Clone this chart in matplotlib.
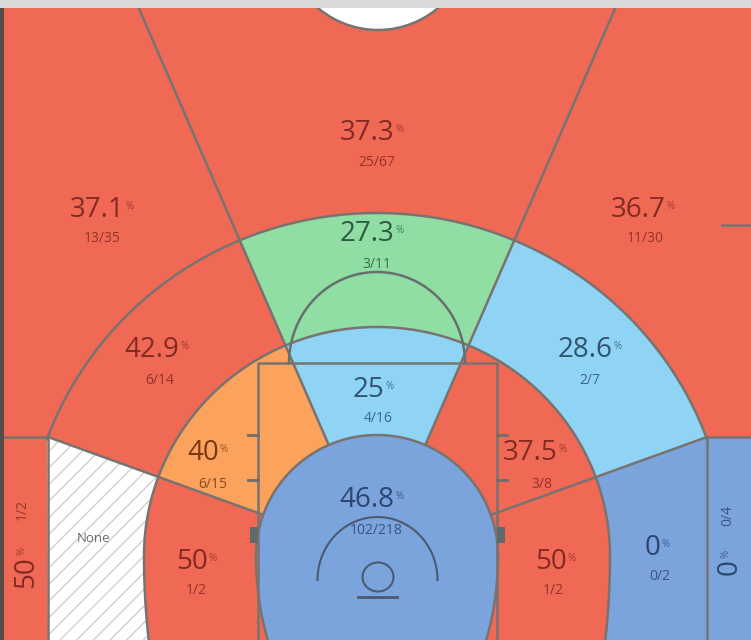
import numpy as np
import matplotlib
matplotlib.use("Agg")
import matplotlib.pyplot as plt
from matplotlib.patches import Polygon, Rectangle, Ellipse

plt.rcParams['font.family'] = ['Open Sans', 'DejaVu Sans']

# shot zones, made / attempted
zone_names = ["3L", "3C", "3R", "C3L", "C3R",
              "MidL", "MidLC", "MidC", "MidRC", "MidR",
              "ShortL", "ShortLC", "ShortC", "ShortRC", "ShortR", "Paint"]
made      = [13, 25, 11, 1, 0, 0, 6, 3, 2, 0, 1, 6, 4, 3, 1, 102]
attempted = [35, 67, 30, 2, 4, 0, 14, 11, 7, 2, 2, 15, 16, 8, 2, 218]
zone_fill = ["red", "red", "red", "red", "blue",
             "none", "red", "green", "lblue", "blue",
             "red", "orange", "lblue", "red", "red", "blue"]

FILL = {"red": "#f06955", "green": "#90dea4", "lblue": "#8fd4f4",
        "blue": "#7ba4dc", "orange": "#fba25c", "none": "white"}
INK = {"red": "#842a23", "green": "#2c5a43", "lblue": "#2f5470",
       "blue": "#2c4670", "orange": "#7a3815", "none": "#6b6b6b"}
LINE = "#787370"
LW = 1.8

# label anchors: number x, y, fraction x, y (pixels)
LABELS = {
    "3L": (97, 210, 102, 238), "3C": (367, 133, 377, 162),
    "3R": (638, 210, 645, 238), "C3L": (26, 572, 22, 509),
    "C3R": (730, 567, 728, 516), "MidL": (94, 538, None, None),
    "MidLC": (152, 350, 160, 380), "MidC": (367, 234, 377, 264),
    "MidRC": (585, 350, 590, 380), "MidR": (653, 548, 660, 577),
    "ShortL": (192, 562, 196, 590), "ShortLC": (203, 453, 213, 484),
    "ShortC": (369, 390, 378, 418), "ShortRC": (530, 453, 542, 484),
    "ShortR": (551, 562, 553, 590), "Paint": (367, 500, 376, 530),
}

W, H = 751, 640
PX, PY = 377, 556          # centre of the zone rings
SIDE_A, CENTER_A = 19.9, 66.5

# angular sectors (degrees, counter-clockwise from +x)
SECTORS = {"L": (180 - SIDE_A, 270), "LC": (180 - CENTER_A, 180 - SIDE_A),
           "C": (CENTER_A, 180 - CENTER_A), "RC": (SIDE_A, CENTER_A),
           "R": (-90, SIDE_A)}


def egg(cx, cy, rx, ry_top, ry_bot, n=360):
    t = np.linspace(0, 2 * np.pi, n, endpoint=False)
    ry = np.where(np.sin(t) >= 0, ry_top, ry_bot)
    return np.column_stack([cx + rx * np.cos(t), cy - ry * np.sin(t)])


def arc_pts(cx, cy, rx, ry, t0, t1, n=200):
    t = np.radians(np.linspace(t0, t1, n))
    return cx + rx * np.cos(t), cy - ry * np.sin(t)


def wedge(a0, a1):
    a = np.radians(np.linspace(a0, a1, 80))
    pts = np.column_stack([PX + 3000 * np.cos(a), PY - 3000 * np.sin(a)])
    return np.vstack([[PX, PY], pts])


# three point line: arc down to the corner lines, then straight
x3, y3 = arc_pts(PX, PY, 351, 343, SIDE_A, 180 - SIDE_A)
three_shape = np.vstack([np.column_stack([x3, y3]), [[48, 700], [707, 700]]])
ring2_shape = egg(PX, PY, 233, 229, 420)
paint_shape = egg(PX, PY, 121, 121, 195)

fig = plt.figure(figsize=(7.51, 6.40), dpi=100)
ax = fig.add_axes([0, 0, 1, 1])
ax.set_xlim(0, W)
ax.set_ylim(H, 0)
ax.axis('off')


def clipped(shape, sector, color, z, **kw):
    p = Polygon(shape, closed=True, facecolor=FILL[color], lw=0, zorder=z, **kw)
    ax.add_patch(p)
    if sector is not None:
        clip = Polygon(wedge(*SECTORS[sector]), closed=True, transform=ax.transData)
        p.set_clip_path(clip)


fills = dict(zip(zone_names, zone_fill))
court = np.array([[3, 8], [W, 8], [W, H], [3, H]])
for key, sec in [("3L", "L"), ("3C", "C"), ("3R", "R")]:
    wide = {"L": (180 - CENTER_A, 270), "C": (CENTER_A, 180 - CENTER_A),
            "R": (-90, CENTER_A)}[sec]
    p = Polygon(court, facecolor=FILL[fills[key]], lw=0, zorder=1)
    ax.add_patch(p)
    p.set_clip_path(Polygon(wedge(*wide), transform=ax.transData))

ax.add_patch(Rectangle((3, 437), 45, H - 437, facecolor=FILL[fills["C3L"]], lw=0, zorder=2))
ax.add_patch(Rectangle((707, 437), W - 707, H - 437, facecolor=FILL[fills["C3R"]], lw=0, zorder=2))

for sec in SECTORS:
    key = "Mid" + sec
    if fills[key] == "none":
        p = Polygon(three_shape, facecolor="white", edgecolor="#cfcfcf",
                    hatch="//", lw=0, zorder=2)
        ax.add_patch(p)
        p.set_clip_path(Polygon(wedge(*SECTORS[sec]), transform=ax.transData))
    else:
        clipped(three_shape, sec, fills[key], 2)
    clipped(ring2_shape, sec, fills["Short" + sec], 3)

# zone boundaries
for a in (CENTER_A, 180 - CENTER_A):
    r = (PY - 8) / np.sin(np.radians(a))
    ax.plot([PX, PX + r * np.cos(np.radians(a))], [PY, 8], color=LINE, lw=LW, zorder=4)
ax.plot([48, PX, 707], [437, PY, 437], color=LINE, lw=LW, zorder=4)
ax.plot(x3, y3, color=LINE, lw=LW, zorder=4)
ax.plot([48, 48], [437, H], color=LINE, lw=LW, zorder=4)
ax.plot([707, 707], [437, H], color=LINE, lw=LW, zorder=4)
ax.plot([3, 48], [437, 437], color=LINE, lw=LW, zorder=4)
ax.plot([707, W], [437, 437], color=LINE, lw=LW, zorder=4)
ax.add_patch(Polygon(ring2_shape, fill=False, edgecolor=LINE, lw=LW, zorder=4))
ax.add_patch(Polygon(paint_shape, facecolor=FILL[fills["Paint"]], edgecolor=LINE,
                     lw=LW, zorder=5))

# court markings
ax.plot([258, 258, 497, 497], [H, 363, 363, H], color=LINE, lw=LW, zorder=6)
for y in (435, 480):
    ax.plot([248, 258], [y, y], color="#6d6d6d", lw=2, zorder=6)
    ax.plot([497, 507], [y, y], color="#6d6d6d", lw=2, zorder=6)
ax.add_patch(Rectangle((250, 527), 8, 16, facecolor="#5f6a6a", lw=0, zorder=6))
ax.add_patch(Rectangle((497, 527), 8, 16, facecolor="#5f6a6a", lw=0, zorder=6))
fx, fy = arc_pts(PX, 363, 88, 91, 0, 180)
ax.plot(fx, fy, color="#66706c", lw=LW, zorder=6)
rx_, ry_ = arc_pts(377.5, 580, 60, 63, 0, 180)
ax.plot(rx_, ry_, color="#4b5a70", lw=1.5, zorder=6)
ax.add_patch(Ellipse((378, 577), 31, 29, fill=False, edgecolor="#4b5a70", lw=1.5, zorder=6))
ax.plot([358, 397], [597, 597], color="#4b5a70", lw=2, zorder=6)
ax.plot([722, W], [225, 225], color=LINE, lw=LW, zorder=6)

# half court circle and top strip
ax.add_patch(Ellipse((378, -63), 186, 186, facecolor="white", edgecolor=LINE, lw=LW, zorder=6))
ax.add_patch(Rectangle((0, 0), W, 8, facecolor="#d9d9d9", lw=0, zorder=7))
ax.add_patch(Rectangle((0, 8), 3.5, H - 8, facecolor="#5b4b47", lw=0, zorder=7))


def pct_text(m, a):
    return f"{100 * m / a:.1f}".rstrip("0").rstrip(".")


for name, m, a, col in zip(zone_names, made, attempted, zone_fill):
    nx, ny, fx_, fy_ = LABELS[name]
    ink = INK[col]
    if a == 0:
        ax.text(nx, ny, "None", ha="center", va="center", fontsize=9.5,
                color=ink, zorder=8)
        continue
    rot = 90 if name.startswith("C3") else 0
    t = ax.text(nx, ny, pct_text(m, a), ha="center", va="center", fontsize=20,
                color=ink, rotation=rot, zorder=8)
    if rot:
        ax.annotate("%", xy=(0.35, 1.0), xycoords=t, xytext=(0, 0.5),
                    textcoords="offset points", ha="center", va="bottom",
                    fontsize=7, color=ink, alpha=0.75, rotation=90, zorder=8)
    else:
        ax.annotate("%", xy=(1.0, 0.64), xycoords=t, xytext=(0.5, 0),
                    textcoords="offset points", ha="left", va="center",
                    fontsize=7, color=ink, alpha=0.75, zorder=8)
    ax.text(fx_, fy_, f"{m}/{a}", ha="center", va="center", fontsize=10,
            color=ink, alpha=0.85, rotation=rot, zorder=8)

fig.savefig("out.png", dpi=100)
